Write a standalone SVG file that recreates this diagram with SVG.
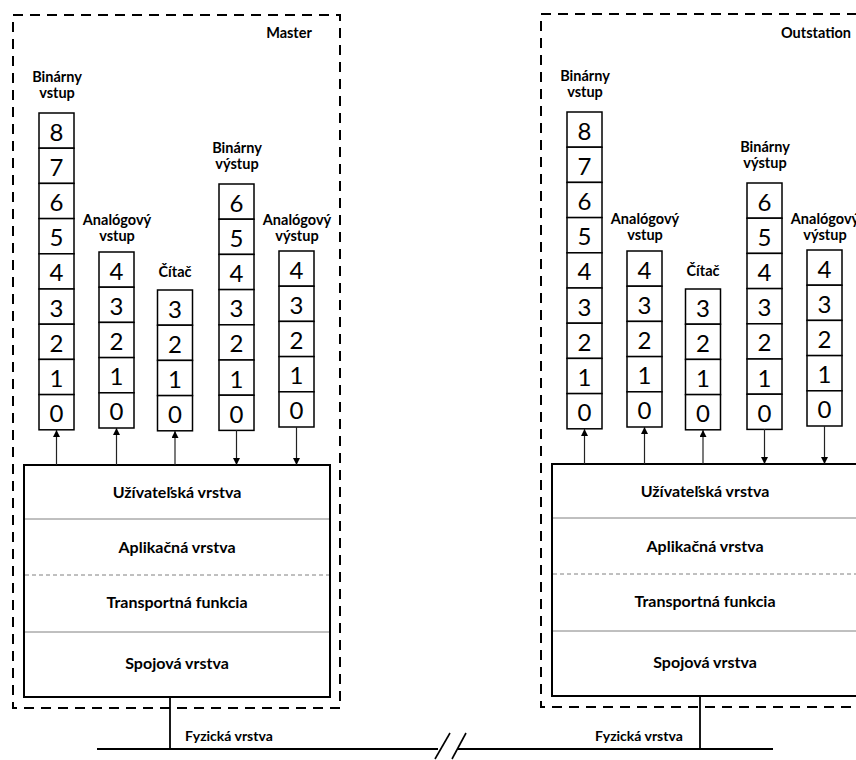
<svg xmlns="http://www.w3.org/2000/svg" width="856" height="760" viewBox="0 0 856 760">
<defs>
<style>
.frame{fill:none;stroke:#000;stroke-width:2;stroke-dasharray:10 7}
.cell{fill:#fff;stroke:#000;stroke-width:1.5}
.dig{font-family:Lato,"Liberation Sans",sans-serif;font-size:24px;fill:#000;text-anchor:middle}
.lbl{font-family:Lato,"Liberation Sans",sans-serif;font-weight:700;font-size:14.5px;fill:#000;text-anchor:middle}
.lay{font-family:Lato,"Liberation Sans",sans-serif;font-weight:700;font-size:16px;fill:#000;text-anchor:middle}
.phy{font-family:Lato,"Liberation Sans",sans-serif;font-weight:700;font-size:14px;fill:#000}
.box{fill:#fff;stroke:#000;stroke-width:2}
.sep{stroke:#808080;stroke-width:1}
.sepd{stroke:#808080;stroke-width:1;stroke-dasharray:4 3}
.con{stroke:#222;stroke-width:1.2;fill:none}
.bus{stroke:#000;stroke-width:2;fill:none}
</style>
<marker id="ah" viewBox="0 0 10 10" refX="10" refY="5" markerWidth="9" markerHeight="7" markerUnits="userSpaceOnUse" orient="auto"><path d="M0,0 L10,5 L0,10 z" fill="#000"/></marker>
<g id="stack">
<rect class="frame" x="13" y="15" width="327" height="693"/>
<g id="col-bin-in">
<rect class="cell" x="39" y="113" width="35" height="35.2"/>
<rect class="cell" x="39" y="148.2" width="35" height="35.2"/>
<rect class="cell" x="39" y="183.4" width="35" height="35.2"/>
<rect class="cell" x="39" y="218.6" width="35" height="35.2"/>
<rect class="cell" x="39" y="253.8" width="35" height="35.2"/>
<rect class="cell" x="39" y="289" width="35" height="35.2"/>
<rect class="cell" x="39" y="324.2" width="35" height="35.2"/>
<rect class="cell" x="39" y="359.4" width="35" height="35.2"/>
<rect class="cell" x="39" y="394.6" width="35" height="35.2"/>
<text class="dig" x="56.5" y="140.5">8</text>
<text class="dig" x="56.5" y="175.7">7</text>
<text class="dig" x="56.5" y="210.9">6</text>
<text class="dig" x="56.5" y="246.1">5</text>
<text class="dig" x="56.5" y="281.3">4</text>
<text class="dig" x="56.5" y="316.5">3</text>
<text class="dig" x="56.5" y="351.7">2</text>
<text class="dig" x="56.5" y="386.9">1</text>
<text class="dig" x="56.5" y="422.1">0</text>
<text class="lbl" x="57" y="82">Binárny</text>
<text class="lbl" x="57" y="98">vstup</text>
</g>
<g id="col-an-in">
<rect class="cell" x="99" y="252" width="35" height="35.2"/>
<rect class="cell" x="99" y="287.2" width="35" height="35.2"/>
<rect class="cell" x="99" y="322.4" width="35" height="35.2"/>
<rect class="cell" x="99" y="357.6" width="35" height="35.2"/>
<rect class="cell" x="99" y="392.8" width="35" height="35.2"/>
<text class="dig" x="116.5" y="279.5">4</text>
<text class="dig" x="116.5" y="314.7">3</text>
<text class="dig" x="116.5" y="349.9">2</text>
<text class="dig" x="116.5" y="385.1">1</text>
<text class="dig" x="116.5" y="420.3">0</text>
<text class="lbl" x="117" y="225">Analógový</text>
<text class="lbl" x="117" y="241">vstup</text>
</g>
<g id="col-cnt">
<rect class="cell" x="157.5" y="290" width="35" height="35.2"/>
<rect class="cell" x="157.5" y="325.2" width="35" height="35.2"/>
<rect class="cell" x="157.5" y="360.4" width="35" height="35.2"/>
<rect class="cell" x="157.5" y="395.6" width="35" height="35.2"/>
<text class="dig" x="175" y="317.5">3</text>
<text class="dig" x="175" y="352.7">2</text>
<text class="dig" x="175" y="387.9">1</text>
<text class="dig" x="175" y="423.1">0</text>
<text class="lbl" x="175" y="277">Čítač</text>
</g>
<g id="col-bin-out">
<rect class="cell" x="219" y="184" width="35" height="35.2"/>
<rect class="cell" x="219" y="219.2" width="35" height="35.2"/>
<rect class="cell" x="219" y="254.4" width="35" height="35.2"/>
<rect class="cell" x="219" y="289.6" width="35" height="35.2"/>
<rect class="cell" x="219" y="324.8" width="35" height="35.2"/>
<rect class="cell" x="219" y="360" width="35" height="35.2"/>
<rect class="cell" x="219" y="395.2" width="35" height="35.2"/>
<text class="dig" x="236.5" y="211.5">6</text>
<text class="dig" x="236.5" y="246.7">5</text>
<text class="dig" x="236.5" y="281.9">4</text>
<text class="dig" x="236.5" y="317.1">3</text>
<text class="dig" x="236.5" y="352.3">2</text>
<text class="dig" x="236.5" y="387.5">1</text>
<text class="dig" x="236.5" y="422.7">0</text>
<text class="lbl" x="237" y="153">Binárny</text>
<text class="lbl" x="237" y="169">výstup</text>
</g>
<g id="col-an-out">
<rect class="cell" x="279" y="251" width="35" height="35.2"/>
<rect class="cell" x="279" y="286.2" width="35" height="35.2"/>
<rect class="cell" x="279" y="321.4" width="35" height="35.2"/>
<rect class="cell" x="279" y="356.6" width="35" height="35.2"/>
<rect class="cell" x="279" y="391.8" width="35" height="35.2"/>
<text class="dig" x="296.5" y="278.5">4</text>
<text class="dig" x="296.5" y="313.7">3</text>
<text class="dig" x="296.5" y="348.9">2</text>
<text class="dig" x="296.5" y="384.1">1</text>
<text class="dig" x="296.5" y="419.3">0</text>
<text class="lbl" x="297" y="225">Analógový</text>
<text class="lbl" x="297" y="241">výstup</text>
</g>
<g id="layers">
<rect class="box" x="24" y="465" width="306" height="232"/>
<line class="sep" x1="25" y1="519" x2="329" y2="519"/>
<line class="sepd" x1="25" y1="575" x2="329" y2="575"/>
<line class="sep" x1="25" y1="632" x2="329" y2="632"/>
<text class="lay" x="177" y="498">Užívateľská vrstva</text>
<text class="lay" x="177" y="553">Aplikačná vrstva</text>
<text class="lay" x="177" y="608">Transportná funkcia</text>
<text class="lay" x="177" y="669">Spojová vrstva</text>
</g>
<g id="arrows">
<line class="con" x1="56.5" y1="465" x2="56.5" y2="430" marker-end="url(#ah)"/>
<line class="con" x1="116.5" y1="465" x2="116.5" y2="428" marker-end="url(#ah)"/>
<line class="con" x1="175" y1="465" x2="175" y2="431" marker-end="url(#ah)"/>
<line class="con" x1="236.5" y1="430" x2="236.5" y2="465" marker-end="url(#ah)"/>
<line class="con" x1="296.5" y1="427" x2="296.5" y2="465" marker-end="url(#ah)"/>
</g>
</g>
</defs>
<rect width="856" height="760" fill="#fff"/>
<g id="master">
<use href="#stack"/>
<text class="lbl" x="289" y="38">Master</text>
</g>
<g id="outstation">
<use href="#stack" transform="translate(528,-1)"/>
<text class="lbl" x="816" y="38">Outstation</text>
</g>
<g id="connectors">
<line class="con" x1="170" y1="697" x2="170" y2="749" style="stroke:#000;stroke-width:1.8"/>
<line class="con" x1="700" y1="696" x2="700" y2="749" style="stroke:#000;stroke-width:1.8"/>
<line class="bus" x1="97" y1="749" x2="438" y2="749"/>
<line class="bus" x1="457" y1="749" x2="773" y2="749"/>
<line class="bus" x1="435" y1="759" x2="450" y2="733" style="stroke-width:1.6"/>
<line class="bus" x1="452" y1="759" x2="466" y2="733" style="stroke-width:1.6"/>
</g>
<g id="phys-labels">
<text class="phy" x="185" y="741">Fyzická vrstva</text>
<text class="phy" x="595" y="741">Fyzická vrstva</text>
</g>
</svg>
